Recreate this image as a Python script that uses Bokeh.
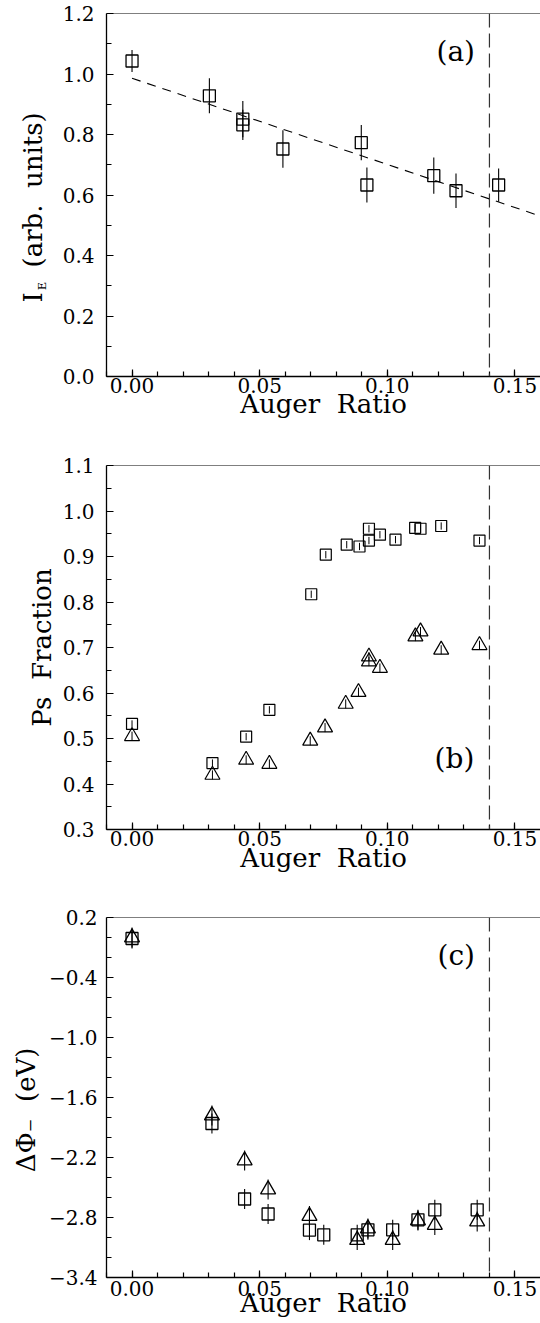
import math
from bokeh.plotting import figure
from bokeh.layouts import column
from bokeh.models import (Range1d, SingleIntervalTicker, FixedTicker, LinearAxis,
                          CustomJSTickFormatter, Span, Label)
from bokeh.embed import file_html
from bokeh.resources import INLINE

FONT = "DejaVu Serif"
NB = "\u00a0"

# ---------------- data ----------------
x_range = [-0.01, 0.16]
threshold_x = 0.14

# panel (a): I_E vs Auger ratio
a_x   = [0.000, 0.0303, 0.0434, 0.0434, 0.0591, 0.0898, 0.0920, 0.1182, 0.1269, 0.1436]
a_y   = [1.043, 0.928, 0.851, 0.832, 0.752, 0.773, 0.633, 0.664, 0.614, 0.633]
a_err = [0.036, 0.058, 0.060, 0.050, 0.062, 0.058, 0.058, 0.060, 0.057, 0.055]
fit_x = [0.0, 0.16]
fit_y = [0.986, 0.530]

# panel (b): Ps fraction
b_sq_x = [0.000, 0.0315, 0.0447, 0.0538, 0.0702, 0.0759, 0.0841, 0.0891, 0.0928,
          0.0928, 0.0971, 0.1032, 0.1109, 0.1130, 0.1211, 0.1361]
b_sq_y = [0.532, 0.446, 0.504, 0.563, 0.817, 0.904, 0.926, 0.922, 0.961,
          0.935, 0.948, 0.937, 0.963, 0.961, 0.967, 0.935]
b_sq_err = [0.008] * len(b_sq_x)
b_tr_x = [0.000, 0.0315, 0.0447, 0.0538, 0.0698, 0.0756, 0.0837, 0.0887, 0.0928,
          0.0928, 0.0971, 0.1110, 0.1130, 0.1211, 0.1361]
b_tr_y = [0.505, 0.420, 0.453, 0.444, 0.495, 0.524, 0.576, 0.602, 0.680,
          0.669, 0.655, 0.724, 0.735, 0.695, 0.705]
b_tr_err = [0.010] * len(b_tr_x)

# panel (c): work-function change
c_sq_x = [0.000, 0.0313, 0.0441, 0.0533, 0.0695, 0.0751, 0.0882, 0.0924, 0.1021,
          0.1120, 0.1186, 0.1352]
c_sq_y = [-0.01, -1.86, -2.615, -2.765, -2.926, -2.973, -2.973, -2.923, -2.923,
          -2.823, -2.723, -2.723]
c_sq_err = [0.10] * len(c_sq_x)
c_tr_x = [0.000, 0.0313, 0.0441, 0.0533, 0.0695, 0.0882, 0.0924, 0.1021, 0.1120,
          0.1186, 0.1352]
c_tr_y = [0.00, -1.78, -2.23, -2.52, -2.785, -3.025, -2.91, -3.025, -2.83,
          -2.875, -2.84]
c_tr_err = [0.10] * len(c_tr_x)

a_yticks = [0.0, 0.2, 0.4, 0.6, 0.8, 1.0, 1.2]
a_yminor = [0.1, 0.3, 0.5, 0.7, 0.9, 1.1]
b_yticks = [0.3, 0.4, 0.5, 0.6, 0.7, 0.8, 0.9, 1.0, 1.1]
b_yminor = [0.35, 0.45, 0.55, 0.65, 0.75, 0.85, 0.95, 1.05]
c_yticks = [0.2, -0.4, -1.0, -1.6, -2.2, -2.8, -3.4]
c_yminor = [0.0, -0.2, -0.6, -0.8, -1.2, -1.4, -1.8, -2.0,
            -2.4, -2.6, -3.0, -3.2]

# labels (non-breaking spaces keep the wide letter spacing of the original and
# shift the rotated labels along the axis)
x_label = "Auger" + NB + NB + "Ratio"
a_ylabel_main = "I" + NB * 3 + "(arb." + NB * 2 + "units)" + NB * 3
a_ylabel_sub = "E" + NB * 52
b_ylabel = "Ps" + NB * 2 + "Fraction"
c_ylabel = "\u0394\u03a6\u208b" + NB * 2 + "(eV)" + NB * 3

# ---------------- helpers ----------------
X_FMT = CustomJSTickFormatter(code="return tick.toFixed(2);")
Y_FMT = CustomJSTickFormatter(
    code="var s = Math.abs(tick).toFixed(1); return (tick < -1e-9 ? '\u2212' : '') + s;")


def style_label(ax, size):
    ax.axis_label_text_font = FONT
    ax.axis_label_text_font_size = f"{size}px"
    ax.axis_label_text_font_style = "normal"
    ax.axis_label_text_color = "black"


def make_fig(height, top, bottom, left, yr, yticker, ystandoff, ylabel, ylab_standoff,
             xstandoff, xlab_standoff):
    p = figure(width=540, height=height,
               x_range=Range1d(*x_range), y_range=Range1d(*yr),
               output_backend="svg", toolbar_location=None,
               min_border_left=left, min_border_right=0,
               min_border_top=top, min_border_bottom=bottom)
    p.grid.visible = False
    p.outline_line_color = None
    p.background_fill_color = "white"
    p.border_fill_color = "white"

    p.xaxis.ticker = SingleIntervalTicker(interval=0.05, num_minor_ticks=5)
    p.xaxis.formatter = X_FMT
    p.yaxis.ticker = yticker
    p.yaxis.formatter = Y_FMT
    for ax in (p.xaxis, p.yaxis):
        ax.axis_line_color = "black"
        ax.axis_line_width = 1.3
        ax.major_tick_in = 7
        ax.major_tick_out = 0
        ax.minor_tick_in = 5
        ax.minor_tick_out = 0
        ax.major_tick_line_color = "black"
        ax.minor_tick_line_color = "black"
        ax.major_tick_line_width = 1.2
        ax.minor_tick_line_width = 1.2
        ax.major_label_text_font = FONT
        ax.major_label_text_font_size = "20px"
        ax.major_label_text_color = "black"
        style_label(ax, 26)
    p.xaxis.major_label_standoff = xstandoff
    p.yaxis.major_label_standoff = ystandoff
    p.xaxis.axis_label = x_label
    p.xaxis.axis_label_standoff = xlab_standoff
    if ylabel is not None:
        p.yaxis.axis_label = ylabel
        p.yaxis.axis_label_standoff = ylab_standoff

    # top border and threshold line
    p.add_layout(Span(location=yr[1], dimension="width", line_color="black",
                      line_width=1.2))
    p.add_layout(Span(location=threshold_x, dimension="height", line_color="#333333",
                      line_width=1.2, line_dash="14 6"))
    return p


def label_axis(p, text, size, standoff):
    ax = LinearAxis(ticker=FixedTicker(ticks=[], minor_ticks=[]),
                    axis_line_color=None, major_tick_line_color=None,
                    minor_tick_line_color=None, major_label_standoff=0,
                    major_tick_in=0, major_tick_out=0, minor_tick_in=0,
                    minor_tick_out=0, axis_label=text,
                    axis_label_standoff=standoff)
    style_label(ax, size)
    p.add_layout(ax, "left")


def errbars(p, xs, ys, es, w=1.1):
    p.segment(x0=xs, y0=[y - e for y, e in zip(ys, es)],
              x1=xs, y1=[y + e for y, e in zip(ys, es)],
              line_color="black", line_width=w)


def panel_tag(p, text, x, y):
    p.add_layout(Label(x=x, y=y, text=text, text_align="center",
                       text_baseline="alphabetic", text_font=FONT,
                       text_font_size="28px", text_color="black"))


# ---------------- panel (a) ----------------
pa = make_fig(440, 13, 64, 105, (0.0, 1.2),
              FixedTicker(ticks=a_yticks, minor_ticks=a_yminor), 12,
              None, 0, 1, -7)
label_axis(pa, a_ylabel_sub, 11, 11)
label_axis(pa, a_ylabel_main, 26, -15)
pa.line(fit_x, fit_y, line_color="black", line_width=1.1, line_dash="9 7")
errbars(pa, a_x, a_y, a_err)
pa.scatter(a_x, a_y, marker="square", size=12, fill_color=None,
           line_color="black", line_width=1.3)
panel_tag(pa, "(a)", 0.1268, 1.074)

# ---------------- panel (b) ----------------
pb = make_fig(440, 25, 51, 105, (0.3, 1.1),
              FixedTicker(ticks=b_yticks, minor_ticks=b_yminor), 12,
              b_ylabel, 3, 1, -6)
errbars(pb, b_sq_x, b_sq_y, b_sq_err, 1.0)
errbars(pb, b_tr_x, b_tr_y, b_tr_err, 1.0)
pb.scatter(b_sq_x, b_sq_y, marker="square", size=11, fill_color=None,
           line_color="black", line_width=1.2)
pb.scatter(b_tr_x, b_tr_y, marker="triangle", size=15, fill_color=None,
           line_color="black", line_width=1.2)
panel_tag(pb, "(b)", 0.1263, 0.455)

# ---------------- panel (c) ----------------
pc = make_fig(443, 37, 46, 106, (-3.4, 0.2),
              FixedTicker(ticks=c_yticks, minor_ticks=c_yminor), 9,
              c_ylabel, 5, 3, -11)
errbars(pc, c_sq_x, c_sq_y, c_sq_err)
errbars(pc, c_tr_x, c_tr_y, c_tr_err)
pc.scatter(c_sq_x, c_sq_y, marker="square", size=12, fill_color=None,
           line_color="black", line_width=1.3)
pc.scatter(c_tr_x, c_tr_y, marker="triangle", size=15, fill_color=None,
           line_color="black", line_width=1.3)
panel_tag(pc, "(c)", 0.127, -0.177)

layout = column(pa, pb, pc)
open("out.html", "w", encoding="utf-8").write(file_html(layout, INLINE))
